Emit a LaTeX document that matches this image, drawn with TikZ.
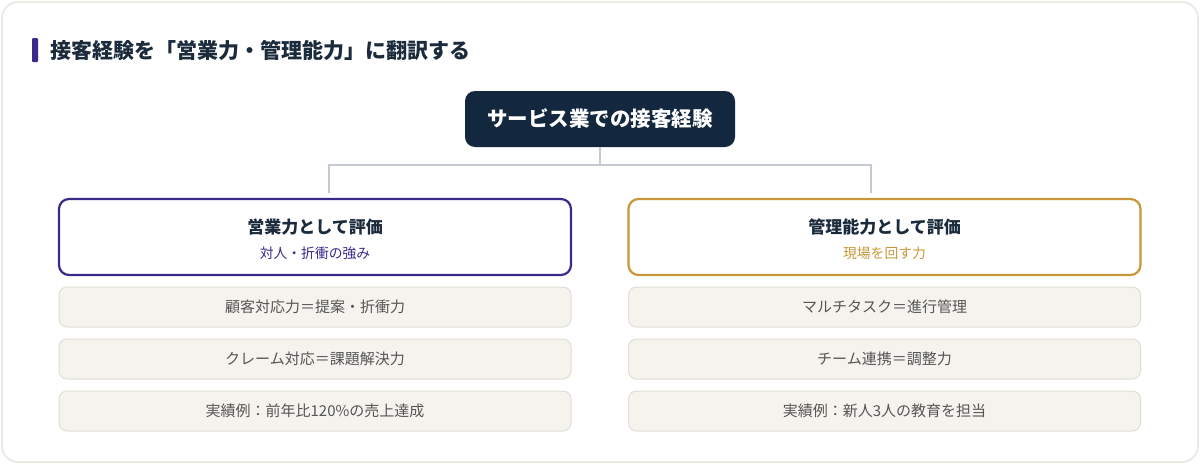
\documentclass[tikz,border=0pt]{standalone}
\usepackage{fontspec}
\setmainfont{Noto Sans CJK JP}
\definecolor{navy}{HTML}{13283F}
\definecolor{titlec}{HTML}{1B2B3C}
\definecolor{purp}{HTML}{3B2A8A}
\definecolor{gold}{HTML}{C9973A}
\definecolor{itemfill}{HTML}{F5F3EE}
\definecolor{itemdraw}{HTML}{E1DED4}
\definecolor{itemtext}{HTML}{555555}
\definecolor{conn}{HTML}{C3CAD1}
\definecolor{cardline}{HTML}{E8E6DE}
\begin{document}
\begin{tikzpicture}[x=1pt,y=-1pt,
  catbox/.style={draw, line width=2.2pt, rounded corners=10pt, fill=white,
    minimum width=512pt, minimum height=76pt, inner sep=0pt},
  itembox/.style={draw=itemdraw, line width=1pt, fill=itemfill, rounded corners=8pt,
    minimum width=512pt, minimum height=40pt, inner sep=0pt,
    text=itemtext, font=\fontsize{15}{18}\selectfont},
  connline/.style={draw=conn, line width=2pt}]
\useasboundingbox (0,0) rectangle (1200,464);
% card
\draw[cardline, line width=1.5pt, fill=white, rounded corners=16pt] (2,2) rectangle (1198,462);
% title
\fill[purp, rounded corners=1pt] (32,38) rectangle (38,62);
\node[anchor=west, inner sep=0pt, text=titlec, font=\fontsize{21}{25}\selectfont\bfseries] (title) at (50,50) {接客経験を「営業力・管理能力」に翻訳する};
% top node
\node[fill=navy, rounded corners=10pt, minimum width=270pt, minimum height=56pt, inner sep=0pt,
  text=white, font=\fontsize{20.5}{24}\selectfont\bfseries] (top) at (600,119) {サービス業での接客経験};
% category boxes
\node[catbox, draw=purp] (left) at (315,237) {};
\node[catbox, draw=gold] (right) at (884.5,237) {};
\node[font=\fontsize{17}{20}\selectfont\bfseries, text=titlec, inner sep=0pt] (ltitle) at (315,227) {営業力として評価};
\node[font=\fontsize{13.8}{16}\selectfont, text=purp, inner sep=0pt] (lsub) at (315,253) {対人・折衝の強み};
\node[font=\fontsize{17}{20}\selectfont\bfseries, text=titlec, inner sep=0pt] (rtitle) at (884.5,227) {管理能力として評価};
\node[font=\fontsize{13.8}{16}\selectfont, text=gold, inner sep=0pt] (rsub) at (884.5,253) {現場を回す力};
% connectors
\coordinate (mid) at (600,165);
\coordinate (jL) at (329,193);
\coordinate (jR) at (871,193);
\draw[connline] (top.south) -- (mid);
\draw[connline] (jL) |- (mid) -| (jR);
% items
\node[itembox] (l1) at (315,307) {顧客対応力＝提案・折衝力};
\node[itembox] (l2) at (315,359) {クレーム対応＝課題解決力};
\node[itembox] (l3) at (315,411) {実績例：前年比120\%の売上達成};
\node[itembox] (r1) at (884.5,307) {マルチタスク＝進行管理};
\node[itembox] (r2) at (884.5,359) {チーム連携＝調整力};
\node[itembox] (r3) at (884.5,411) {実績例：新人3人の教育を担当};
\end{tikzpicture}
\end{document}
